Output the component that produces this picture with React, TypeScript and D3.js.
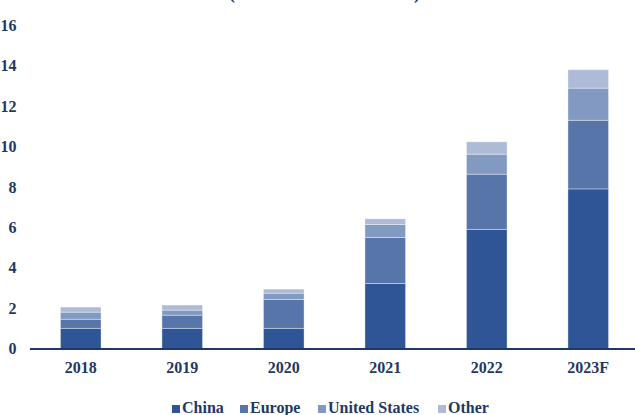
import React from "react";
import * as d3 from "d3";

const years = ["2018", "2019", "2020", "2021", "2022", "2023F"];
const seriesNames = ["China", "Europe", "United States", "Other"];
const china = [1.0, 1.0, 1.0, 3.22, 5.9, 7.9];
const europe = [0.45, 0.65, 1.43, 2.28, 2.73, 3.4];
const unitedStates = [0.35, 0.25, 0.31, 0.64, 0.99, 1.59];
const other = [0.25, 0.25, 0.2, 0.28, 0.61, 0.91];
const yTicks = [0, 2, 4, 6, 8, 10, 12, 14, 16];

const colors = ["#2F5597", "#5875AA", "#8299C2", "#ADBBD7"];
const textColor = "#1F3864";
const font = "'Liberation Serif', 'Times New Roman', serif";

const W = 635;
const H = 415;
const legendX = [172, 240, 318, 438];

export default function App() {
  const x = d3.scaleBand<string>().domain(years).range([30, 639]).paddingInner(0.6).paddingOuter(0.3);
  const y = d3.scaleLinear().domain([0, 16]).range([348.5, 25.3]);

  const table = years.map((yr, i) => ({
    year: yr,
    China: china[i],
    Europe: europe[i],
    "United States": unitedStates[i],
    Other: other[i],
  }));
  const stacked = d3.stack<any>().keys(seriesNames)(table);

  return (
    <svg width={W} height={H} style={{ position: "absolute", left: 0, top: 0 }} fontFamily={font}>
      <rect x={0} y={0} width={W} height={H} fill="#ffffff" />
      {/* title, mostly cut off above the view in the reference */}
      <text x={232} y={-1} fontSize={18} fontWeight="bold" fill={textColor} textAnchor="middle">(</text>
      <text x={417} y={-1} fontSize={18} fontWeight="bold" fill={textColor} textAnchor="middle">)</text>

      {yTicks.map((t) => (
        <text key={t} x={16.5} y={y(t)} dy="0.35em" textAnchor="end" fontSize={16} fontWeight="bold" fill={textColor}>
          {t}
        </text>
      ))}

      {stacked.map((s, si) => (
        <g key={s.key} fill={colors[si]}>
          {s.map((d, i) => (
            <rect
              key={years[i]}
              x={x(years[i])}
              width={x.bandwidth()}
              y={y(d[1])}
              height={y(d[0]) - y(d[1])}
              stroke="#ffffff"
              strokeOpacity={0.45}
              strokeWidth={0.8}
            />
          ))}
        </g>
      ))}

      <line x1={30} x2={W} y1={349} y2={349} stroke={textColor} strokeWidth={1.8} />

      {years.map((yr) => (
        <text
          key={yr}
          x={(x(yr) as number) + x.bandwidth() / 2}
          y={373}
          textAnchor="middle"
          fontSize={16}
          fontWeight="bold"
          fill={textColor}
        >
          {yr}
        </text>
      ))}

      {seriesNames.map((n, i) => (
        <g key={n}>
          <rect x={legendX[i]} y={405} width={8} height={8} fill={colors[i]} />
          <text x={legendX[i] + 10} y={412.5} fontSize={16} fontWeight="bold" fill={textColor}>
            {n}
          </text>
        </g>
      ))}
    </svg>
  );
}
